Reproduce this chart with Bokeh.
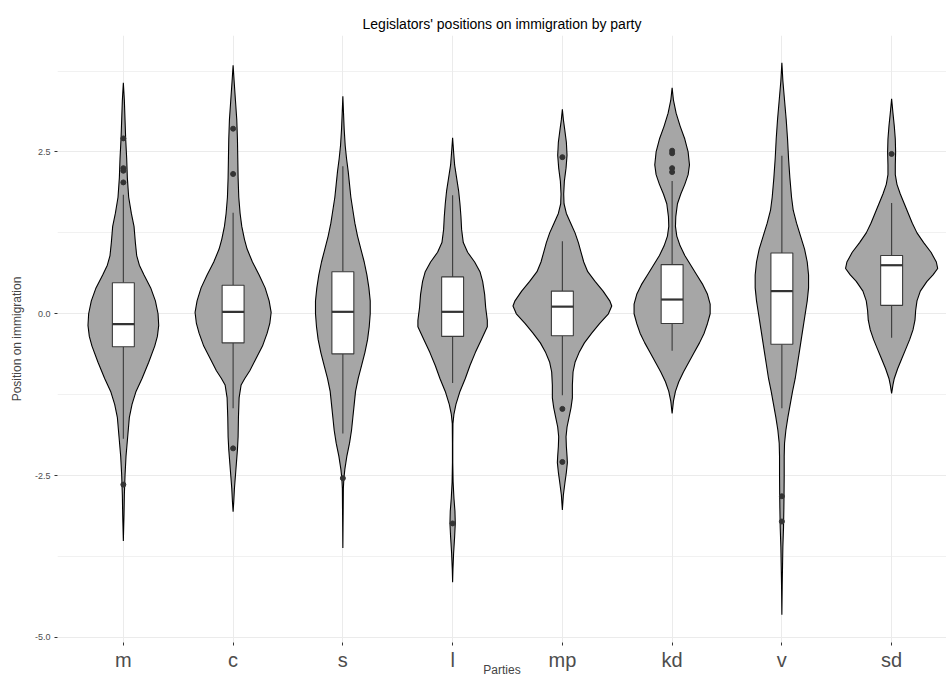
import numpy as np
from bokeh.plotting import figure
from bokeh.models import Range1d, FixedTicker, SingleIntervalTicker, NumeralTickFormatter
from bokeh.embed import file_html
from bokeh.resources import INLINE

parties = ["m", "c", "s", "l", "mp", "kd", "v", "sd"]

# ---- violin outlines: position value and relative density ----
m_y = [3.57, 3.3, 3.0, 2.7, 2.4, 2.1, 1.8, 1.55, 1.35, 1.1, 0.9, 0.75, 0.6, 0.4, 0.2, 0.0, -0.18, -0.35, -0.5, -0.75, -1.0, -1.2, -1.4, -1.6, -1.9, -2.2, -2.5, -2.8, -3.1, -3.51]
m_d = [0, 3, 5, 7, 10, 12, 16, 24, 32, 36, 40, 48, 62, 82, 96, 104, 106, 102, 94, 76, 56, 38, 26, 18, 13, 8, 5, 3, 2, 0]

c_y = [3.84, 3.6, 3.3, 3.0, 2.7, 2.4, 2.1, 1.8, 1.55, 1.35, 1.15, 1.0, 0.8, 0.6, 0.4, 0.2, 0.02, -0.15, -0.3, -0.5, -0.7, -0.88, -1.0, -1.1, -1.3, -1.6, -1.9, -2.1, -2.3, -2.5, -2.7, -2.9, -3.06]
c_d = [0, 3, 7, 11, 13, 14, 15, 17, 21, 26, 34, 42, 58, 78, 96, 108, 114, 110, 102, 88, 68, 50, 35, 24, 18, 16, 15, 13, 10, 7, 4, 2, 0]

s_y = [3.36, 3.1, 2.85, 2.6, 2.4, 2.2, 2.0, 1.8, 1.6, 1.4, 1.2, 1.0, 0.8, 0.6, 0.4, 0.2, 0.0, -0.2, -0.4, -0.6, -0.8, -1.0, -1.2, -1.4, -1.6, -1.8, -2.0, -2.2, -2.4, -2.55, -2.7, -3.0, -3.3, -3.62]
s_d = [0, 2, 4, 7, 11, 16, 20, 24, 30, 36, 44, 54, 64, 72, 78, 82, 82, 79, 74, 66, 56, 46, 38, 34, 30, 26, 20, 12, 6, 3, 1.5, 1, 0.5, 0]

l_y = [2.72, 2.5, 2.3, 2.1, 1.9, 1.7, 1.5, 1.3, 1.1, 0.95, 0.8, 0.65, 0.5, 0.3, 0.1, -0.1, -0.2, -0.4, -0.6, -0.8, -1.0, -1.2, -1.4, -1.55, -1.7, -2.0, -2.3, -2.6, -2.85, -3.05, -3.24, -3.45, -3.7, -3.95, -4.15]
l_d = [0, 3, 6, 12, 18, 22, 25, 27, 32, 45, 66, 82, 90, 96, 99, 104, 104, 86, 68, 52, 38, 22, 10, 4, 1, 0.5, 0.5, 1.5, 4, 7, 8, 6, 3, 1, 0]

mp_y = [3.16, 3.0, 2.85, 2.65, 2.45, 2.25, 2.05, 1.85, 1.7, 1.55, 1.4, 1.25, 1.1, 0.95, 0.8, 0.65, 0.5, 0.35, 0.2, 0.12, 0.0, -0.15, -0.3, -0.45, -0.6, -0.75, -0.9, -1.1, -1.3, -1.45, -1.6, -1.75, -1.9, -2.05, -2.2, -2.3, -2.45, -2.6, -2.8, -3.03]
mp_d = [0, 3, 7, 12, 14, 11, 6, 4, 5, 12, 25, 38, 48, 56, 64, 76, 98, 122, 142, 148, 138, 112, 88, 66, 50, 38, 32, 30, 30, 26, 20, 14, 11, 12, 14, 15, 12, 8, 3, 0]

kd_y = [3.49, 3.3, 3.1, 2.9, 2.7, 2.5, 2.3, 2.15, 2.0, 1.85, 1.7, 1.5, 1.35, 1.2, 1.05, 0.9, 0.75, 0.6, 0.45, 0.3, 0.15, 0.0, -0.15, -0.3, -0.45, -0.6, -0.75, -0.9, -1.05, -1.2, -1.35, -1.54]
kd_d = [0, 4, 12, 24, 38, 48, 52, 48, 38, 26, 16, 11, 10, 14, 24, 38, 56, 74, 92, 106, 114, 114, 106, 96, 82, 66, 50, 34, 20, 10, 4, 0]

v_y = [3.88, 3.6, 3.3, 3.0, 2.7, 2.4, 2.1, 1.8, 1.6, 1.4, 1.2, 1.0, 0.8, 0.6, 0.4, 0.2, 0.0, -0.2, -0.4, -0.6, -0.8, -1.0, -1.2, -1.4, -1.6, -1.8, -2.0, -2.2, -2.5, -2.8, -3.0, -3.3, -3.6, -3.9, -4.2, -4.65]
v_d = [0, 3, 8, 13, 17, 20, 24, 29, 34, 44, 56, 68, 76, 80, 80, 76, 70, 64, 58, 52, 46, 40, 32, 25, 18, 12, 8, 7, 7, 6.5, 6, 5, 3, 2, 1, 0]

sd_y = [3.32, 3.1, 2.9, 2.7, 2.5, 2.3, 2.15, 2.0, 1.85, 1.7, 1.55, 1.4, 1.25, 1.1, 0.95, 0.8, 0.7, 0.6, 0.5, 0.35, 0.2, 0.05, -0.1, -0.25, -0.4, -0.55, -0.7, -0.85, -1.0, -1.1, -1.23]
sd_d = [0, 4, 8, 11, 12, 11, 11, 16, 26, 38, 50, 62, 76, 96, 118, 134, 138, 124, 106, 86, 76, 72, 70, 64, 54, 42, 30, 18, 8, 4, 0]

violin_y = [m_y, c_y, s_y, l_y, mp_y, kd_y, v_y, sd_y]
violin_d = [m_d, c_d, s_d, l_d, mp_d, kd_d, v_d, sd_d]

# ---- boxplot statistics ----
q1 = [-0.51, -0.45, -0.62, -0.35, -0.34, -0.15, -0.47, 0.13]
median = [-0.16, 0.03, 0.03, 0.03, 0.11, 0.22, 0.35, 0.75]
q3 = [0.48, 0.44, 0.65, 0.57, 0.35, 0.76, 0.94, 0.90]
whisker_lo = [-1.93, -1.46, -1.85, -1.07, -1.26, -0.57, -1.46, -0.37]
whisker_hi = [1.84, 1.56, 2.28, 1.83, 1.12, 2.05, 2.44, 1.71]

outlier_party = ["m", "m", "m", "m", "m", "c", "c", "c", "s", "l", "mp", "mp", "mp",
                 "kd", "kd", "kd", "kd", "v", "v", "sd"]
outlier_value = [2.71, 2.25, 2.21, 2.03, -2.64, 2.86, 2.16, -2.08, -2.54, -3.24, 2.42, -1.47, -2.29,
                 2.52, 2.48, 2.25, 2.19, -2.82, -3.21, 2.47]

pos = {p: i + 1 for i, p in enumerate(parties)}
dmax = max(max(d) for d in violin_d)
VW = 0.45
BW = 0.1

p = figure(width=946, height=679, x_range=Range1d(0.4, 8.5), y_range=Range1d(-5.08, 4.30),
           output_backend="svg", toolbar_location=None,
           min_border_left=57, min_border_right=0, min_border_top=35, min_border_bottom=36)
p.outline_line_color = None
p.background_fill_color = "white"

p.title.text = "Legislators' positions on immigration by party"
p.title.align = "center"
p.title.offset = 6
p.title.text_font = "Liberation Sans"
p.title.text_font_size = "14px"
p.title.text_font_style = "normal"
p.title.text_color = "black"
p.title.standoff = 7

xs, ys = [], []
for i, (yy, dd) in enumerate(zip(violin_y, violin_d)):
    yy = np.array(yy, float)
    hw = VW * np.array(dd, float) / dmax
    c = i + 1
    xs.append(np.concatenate([c - hw, (c + hw)[::-1]]))
    ys.append(np.concatenate([yy, yy[::-1]]))
p.patches(xs, ys, fill_color="#a6a6a6", line_color="black", line_width=1.1)

xc = np.arange(1, len(parties) + 1)
p.segment(xc, q3, xc, whisker_hi, line_color="#3a3a3a", line_width=1.1)
p.segment(xc, whisker_lo, xc, q1, line_color="#3a3a3a", line_width=1.1)
p.quad(left=xc - BW, right=xc + BW, bottom=q1, top=q3, fill_color="white",
       line_color="#3a3a3a", line_width=1.1)
p.segment(xc - BW, median, xc + BW, median, line_color="#333333", line_width=2.2)
p.scatter([pos[o] for o in outlier_party], outlier_value, size=5, color="#333333")

# axes
p.xaxis.ticker = FixedTicker(ticks=list(range(1, len(parties) + 1)))
p.xaxis.major_label_overrides = {i + 1: n for i, n in enumerate(parties)}
p.xaxis.major_label_text_font = "Liberation Sans"
p.xaxis.major_label_text_font_size = "20px"
p.xaxis.major_label_text_color = "#4d4d4d"
p.xaxis.major_label_standoff = 3
p.xaxis.axis_label = "Parties"
p.xaxis.axis_label_text_font = "Liberation Sans"
p.xaxis.axis_label_text_font_size = "12px"
p.xaxis.axis_label_text_font_style = "normal"
p.xaxis.axis_label_standoff = -11

yt = SingleIntervalTicker(interval=2.5, num_minor_ticks=2)
p.yaxis.ticker = yt
p.yaxis.formatter = NumeralTickFormatter(format="0.0")
p.yaxis.major_label_text_font = "Liberation Sans"
p.yaxis.major_label_text_font_size = "9px"
p.yaxis.major_label_text_color = "#4d4d4d"
p.yaxis.major_label_standoff = 4
p.yaxis.axis_label = "Position on immigration"
p.yaxis.axis_label_text_font = "Liberation Sans"
p.yaxis.axis_label_text_font_size = "12px"
p.yaxis.axis_label_text_font_style = "normal"
p.yaxis.axis_label_standoff = 8

for ax in (p.xaxis, p.yaxis):
    ax.axis_line_color = None
    ax.major_tick_line_color = "#333333"
    ax.major_tick_out = 3
    ax.major_tick_in = 0
    ax.minor_tick_out = 0
    ax.minor_tick_in = 0

p.xgrid.ticker = p.xaxis.ticker
p.xgrid.grid_line_color = "#ebebeb"
p.xgrid.grid_line_width = 1
p.ygrid.ticker = yt
p.ygrid.grid_line_color = "#ebebeb"
p.ygrid.grid_line_width = 1
p.ygrid.minor_grid_line_color = "#ebebeb"
p.ygrid.minor_grid_line_width = 0.7

open("out.html", "w").write(file_html(p, INLINE))
